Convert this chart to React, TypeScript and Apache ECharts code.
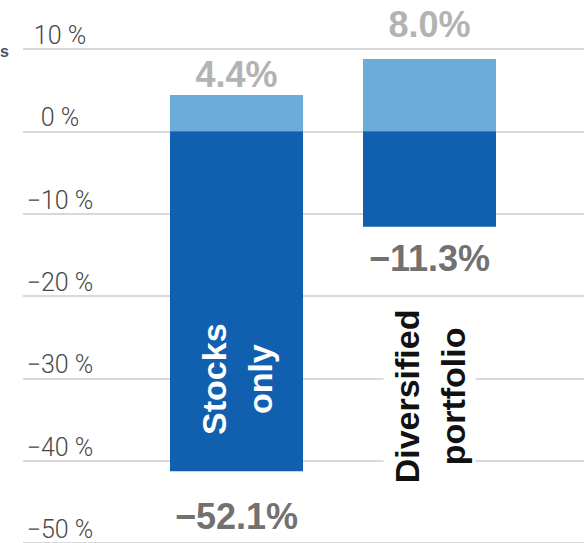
import React, { useEffect, useRef } from "react";
import * as echarts from "echarts";

const categories = ["Stocks only", "Diversified portfolio"];
const categoryTexts = ["Stocks\nonly", "Diversified\nportfolio"];
// bar heights as drawn in the picture (%)
const gainBar = [4.4, 8.8];
const lossBar = [-41.3, -11.6];
// printed values (%)
const gainLabels = [4.4, 8.0];
const lossLabels = [-52.1, -11.3];
const yMin = -50;
const yMax = 10;
const yStep = 10;

const fmtPct = (v: number) => (v < 0 ? "\u2212" : "") + Math.abs(v).toFixed(1) + "%";
const fmtTick = (v: number) => (v < 0 ? "\u2212" : "") + Math.abs(v) + " %";

export default function App() {
  const ref = useRef<HTMLDivElement>(null);
  useEffect(() => {
    if (!ref.current) return;
    const chart = echarts.init(ref.current, null, { renderer: "svg" });
    const gainGaps = [3, 16];
    const lossGaps = [27, 14];
    chart.setOption({
      animation: false,
      grid: [
        { left: 23, right: 0, top: 49, height: 498 },
        { left: 140, width: 386, top: 49, height: 498 },
      ],
      xAxis: [
        { gridIndex: 0, type: "value", min: 0, max: 1, show: false },
        { gridIndex: 1, type: "category", data: categories, show: false },
      ],
      yAxis: [
        {
          gridIndex: 0,
          type: "value",
          min: yMin,
          max: yMax,
          interval: yStep,
          axisLine: { show: false },
          axisTick: { show: false },
          splitLine: { lineStyle: { color: "#cccccc", width: 1.5 } },
          axisLabel: {
            inside: true,
            align: "center",
            verticalAlign: "bottom",
            margin: 37,
            padding: [0, 0, 1, 0],
            fontSize: 25,
            fontFamily: "Roboto",
            fontWeight: 300,
            color: "#484848",
            formatter: (v: number) => fmtTick(v),
          },
        },
        { gridIndex: 1, type: "value", min: yMin, max: yMax, show: false, splitLine: { show: false } },
      ],
      series: [
        {
          type: "bar",
          xAxisIndex: 1,
          yAxisIndex: 1,
          stack: "r",
          barWidth: 133,
          itemStyle: { color: "#6cacd8" },
          data: gainBar.map((v, i) => ({ value: v, label: { distance: gainGaps[i] } })),
          label: {
            show: true,
            position: "top",
            fontFamily: "Liberation Sans",
            fontWeight: "bold",
            fontSize: 36,
            color: "#b3b3b3",
            formatter: (p: any) => fmtPct(gainLabels[p.dataIndex]),
          },
        },
        {
          type: "bar",
          xAxisIndex: 1,
          yAxisIndex: 1,
          stack: "r",
          barWidth: 133,
          itemStyle: { color: "#1160b0" },
          data: lossBar.map((v, i) => ({ value: v, label: { distance: lossGaps[i] } })),
          label: {
            show: true,
            position: "bottom",
            fontFamily: "Liberation Sans",
            fontWeight: "bold",
            fontSize: 36,
            color: "#717171",
            formatter: (p: any) => fmtPct(lossLabels[p.dataIndex]),
          },
        },
      ],
    });
    const labelY = [-30.1, -32.2];
    const labelColors = ["#ffffff", "#111111"];
    const labelBg = ["transparent", "#ffffff"];
    const graphics: any[] = categories.map((c, i) => {
      const pt = chart.convertToPixel({ gridIndex: 1 } as any, [c, labelY[i]]) as number[];
      return {
        type: "text",
        x: pt[0],
        y: pt[1],
        rotation: Math.PI / 2,
        z: 100,
        style: {
          text: categoryTexts[i],
          align: "center",
          verticalAlign: "middle",
          fill: labelColors[i],
          font: 'bold 34px "Liberation Sans"',
          lineHeight: 46,
          backgroundColor: labelBg[i],
          padding: [0, 8],
        },
      };
    });
    graphics.push({
      type: "text",
      x: 0,
      y: 51,
      style: {
        text: "s",
        align: "left",
        verticalAlign: "middle",
        fill: "#44546a",
        font: 'bold 16px "Liberation Sans"',
      },
    });
    chart.setOption({ graphic: graphics });
    return () => chart.dispose();
  }, []);
  return <div ref={ref} style={{ width: 584, height: 543, position: "absolute", left: 0, top: 0 }} />;
}
